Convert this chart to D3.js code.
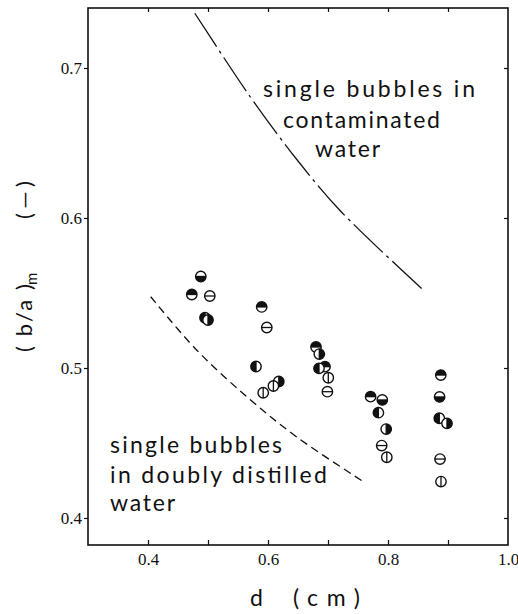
<!DOCTYPE html>
<html>
<head>
<meta charset="utf-8">
<script src="https://cdn.jsdelivr.net/npm/d3@7"></script>
<style>
  html, body { margin: 0; padding: 0; background: #fff; }
  svg { display: block; }
  .sans { font-family: Lato, "DejaVu Sans", sans-serif; fill: #111; }
  .tick text { font-family: "Liberation Serif", serif; font-size: 17px; fill: #111; }
</style>
</head>
<body>
<svg id="chart" width="518" height="614"></svg>
<script>
// Axis tick values
const xTickValues = [0.4, 0.5, 0.6, 0.7, 0.8, 0.9];
const xTickLabels = [0.4, 0.6, 0.8, 1.0];
const yTickValues = [0.4, 0.5, 0.6, 0.7];

// Measured (b/a)m against bubble diameter d (cm), grouped by symbol
const lowerHalfFilled = [[0.488, 0.561], [0.7905, 0.4787], [0.886, 0.4807]];
const upperHalfFilled = [[0.473, 0.549], [0.5895, 0.5407], [0.68, 0.514], [0.695, 0.5009], [0.771, 0.4809], [0.888, 0.4953]];
const leftHalfFilled  = [[0.495, 0.5335], [0.58, 0.501], [0.685, 0.4998], [0.784, 0.4702], [0.8855, 0.4665]];
const rightHalfFilled = [[0.5, 0.532], [0.618, 0.491], [0.6855, 0.5093], [0.797, 0.4593], [0.8983, 0.4631]];
const openHorizontal  = [[0.503, 0.548], [0.598, 0.527], [0.699, 0.4842], [0.7895, 0.4483], [0.8867, 0.4393]];
const openVertical    = [[0.592, 0.4835], [0.609, 0.488], [0.7005, 0.4935], [0.798, 0.4405], [0.8883, 0.4243]];

// Correlation curves
const contaminatedCurve = [[0.478, 0.7365], [0.57, 0.681], [0.648, 0.639], [0.72, 0.605], [0.856, 0.553]];
const distilledCurve    = [[0.4045, 0.5475], [0.481, 0.512], [0.57, 0.479], [0.648, 0.454], [0.756, 0.425]];

const svg = d3.select("#chart");
const plotLeft = 88, plotRight = 508, plotTop = 8, plotBottom = 545;

const x = d3.scaleLinear().domain([0.3, 1.0]).range([plotLeft, plotRight]);
const y = d3.scaleLinear().domain([0.382, 0.74]).range([plotBottom, plotTop]);

// Frame
svg.append("rect")
  .attr("x", plotLeft).attr("y", plotTop)
  .attr("width", plotRight - plotLeft).attr("height", plotBottom - plotTop)
  .attr("fill", "none").attr("stroke", "#111").attr("stroke-width", 1.6);

// Bottom axis: inward ticks every 0.1, labels every 0.2
const xAxis = svg.append("g")
  .attr("transform", `translate(0,${plotBottom})`)
  .call(d3.axisBottom(x).tickValues(xTickValues).tickSize(-5).tickFormat(() => ""));
xAxis.select(".domain").remove();
xAxis.selectAll("line").attr("stroke", "#111").attr("stroke-width", 1.2);

const xLabels = svg.append("g")
  .attr("transform", `translate(0,${plotBottom})`)
  .call(d3.axisBottom(x).tickValues(xTickLabels).tickSize(0).tickPadding(8).tickFormat(d3.format(".1f")));
xLabels.select(".domain").remove();

// Top axis
const xTop = svg.append("g")
  .attr("transform", `translate(0,${plotTop})`)
  .call(d3.axisTop(x).tickValues(xTickValues).tickSize(-4).tickFormat(() => ""));
xTop.select(".domain").remove();
xTop.selectAll("line").attr("stroke", "#111").attr("stroke-width", 1.2);

// Left axis: outward ticks with labels
const yAxis = svg.append("g")
  .attr("transform", `translate(${plotLeft},0)`)
  .call(d3.axisLeft(y).tickValues(yTickValues).tickSize(4).tickPadding(2).tickFormat(d3.format(".1f")));
yAxis.select(".domain").remove();
yAxis.selectAll("line").attr("stroke", "#111").attr("stroke-width", 1.2);

// Right axis: inward ticks
const yRight = svg.append("g")
  .attr("transform", `translate(${plotRight},0)`)
  .call(d3.axisRight(y).tickValues(yTickValues).tickSize(-4).tickFormat(() => ""));
yRight.select(".domain").remove();
yRight.selectAll("line").attr("stroke", "#111").attr("stroke-width", 1.2);

// Curves
const line = d3.line().x(d => x(d[0])).y(d => y(d[1])).curve(d3.curveCatmullRom);
svg.append("path").datum(contaminatedCurve)
  .attr("d", line).attr("fill", "none").attr("stroke", "#111")
  .attr("stroke-width", 1.3).attr("stroke-dasharray", "40,5,3,5");
svg.append("path").datum(distilledCurve)
  .attr("d", line).attr("fill", "none").attr("stroke", "#111")
  .attr("stroke-width", 1.3).attr("stroke-dasharray", "8,5");

// Symbols
const r = 5.2;
const halves = {
  lower: `M${-r},0A${r},${r} 0 0,0 ${r},0Z`,
  upper: `M${-r},0A${r},${r} 0 0,1 ${r},0Z`,
  left:  `M0,${-r}A${r},${r} 0 0,0 0,${r}Z`,
  right: `M0,${-r}A${r},${r} 0 0,1 0,${r}Z`
};
const dividers = {
  lower: [[-r, 0], [r, 0]], upper: [[-r, 0], [r, 0]],
  left: [[0, -r], [0, r]], right: [[0, -r], [0, r]],
  horiz: [[-r, 0], [r, 0]], vert: [[0, -r], [0, r]]
};
const seriesList = [
  { data: lowerHalfFilled, kind: "lower" },
  { data: upperHalfFilled, kind: "upper" },
  { data: leftHalfFilled, kind: "left" },
  { data: rightHalfFilled, kind: "right" },
  { data: openHorizontal, kind: "horiz" },
  { data: openVertical, kind: "vert" }
];
seriesList.forEach(s => {
  const g = svg.append("g").selectAll("g").data(s.data).join("g")
    .attr("transform", d => `translate(${x(d[0])},${y(d[1])})`);
  g.append("circle").attr("r", r).attr("fill", "#fff").attr("stroke", "#111").attr("stroke-width", 1.4);
  if (halves[s.kind]) g.append("path").attr("d", halves[s.kind]).attr("fill", "#111");
  const dv = dividers[s.kind];
  g.append("line").attr("x1", dv[0][0]).attr("y1", dv[0][1]).attr("x2", dv[1][0]).attr("y2", dv[1][1])
    .attr("stroke", "#111").attr("stroke-width", 1.3);
});

// Annotations (spread to their printed widths)
const note = (parent, txt, px, py, size, width) => parent.append("text").attr("class", "sans")
  .attr("x", px).attr("y", py).attr("font-size", size)
  .attr("textLength", width).attr("lengthAdjust", "spacing")
  .attr("xml:space", "preserve").text(txt);
note(svg, "single bubbles in", 263, 97, 23, 212);
note(svg, "contaminated", 283, 128, 23, 157);
note(svg, "water", 315, 157, 23, 65);
note(svg, "single bubbles", 110, 453, 23, 172);
note(svg, "in doubly distilled", 110, 483, 23, 217);
note(svg, "water", 110, 511, 23, 65);

// Axis titles
note(svg, "d", 250, 606, 23, 13);
note(svg, "(cm)", 293, 606, 23, 67);

const yTitle = svg.append("g").attr("transform", "rotate(-90)");
note(yTitle, "( b/a )", -352, 32, 22, 68);
yTitle.append("text").attr("class", "sans").attr("x", -285).attr("y", 37)
  .attr("font-size", 15).text("m");
note(yTitle, "(—)", -219, 32, 22, 38);
</script>
</body>
</html>
